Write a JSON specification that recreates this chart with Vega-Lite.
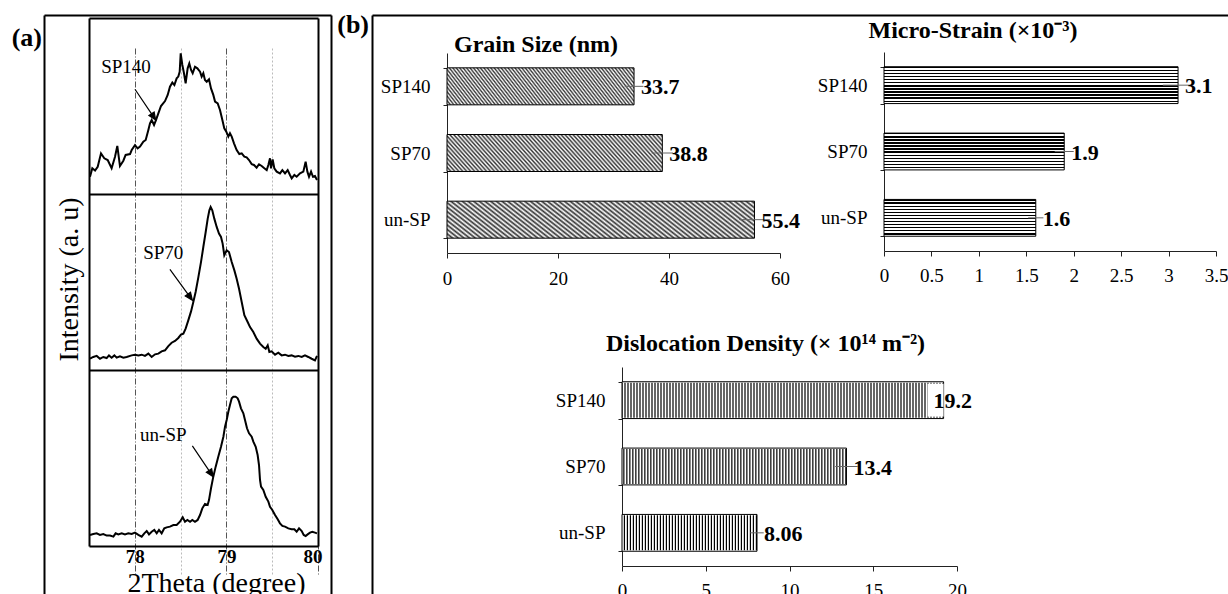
{
"$schema": "https://vega.github.io/schema/vega-lite/v6.json",
"width": 1228, "height": 594, "padding": 0, "autosize": {"type": "none"}, "background": "#ffffff",
"config": {"view": {"stroke": null}, "axis": {"labelFont": "Liberation Serif", "titleFont": "Liberation Serif", "labelColor": "#000", "titleColor": "#000", "domainColor": "#222", "tickColor": "#222", "labelFontSize": 19, "grid": false, "labelFlush": false, "labelOverlap": false}, "text": {"font": "Liberation Serif", "color": "#000"}},
"datasets": {
"xrd": [
{"sample":"SP140","theta":77.511,"intensity":209.8},{"sample":"SP140","theta":77.536,"intensity":214.6},{"sample":"SP140","theta":77.566,"intensity":213.3},{"sample":"SP140","theta":77.595,"intensity":215.5},{"sample":"SP140","theta":77.631,"intensity":223.1},{"sample":"SP140","theta":77.667,"intensity":220.3},{"sample":"SP140","theta":77.704,"intensity":219.3},{"sample":"SP140","theta":77.747,"intensity":214.6},{"sample":"SP140","theta":77.784,"intensity":221.2},{"sample":"SP140","theta":77.809,"intensity":227.3},{"sample":"SP140","theta":77.838,"intensity":215.9},{"sample":"SP140","theta":77.875,"intensity":218.9},{"sample":"SP140","theta":77.9,"intensity":222.2},{"sample":"SP140","theta":77.948,"intensity":222.7},{"sample":"SP140","theta":77.966,"intensity":225.0},{"sample":"SP140","theta":78.002,"intensity":227.8},{"sample":"SP140","theta":78.031,"intensity":225.9},{"sample":"SP140","theta":78.057,"intensity":226.9},{"sample":"SP140","theta":78.093,"intensity":229.7},{"sample":"SP140","theta":78.119,"intensity":230.7},{"sample":"SP140","theta":78.148,"intensity":236.4},{"sample":"SP140","theta":78.166,"intensity":240.2},{"sample":"SP140","theta":78.184,"intensity":242.0},{"sample":"SP140","theta":78.21,"intensity":239.2},{"sample":"SP140","theta":78.231,"intensity":242.0},{"sample":"SP140","theta":78.257,"intensity":245.8},{"sample":"SP140","theta":78.286,"intensity":250.0},{"sample":"SP140","theta":78.33,"intensity":252.8},{"sample":"SP140","theta":78.359,"intensity":256.3},{"sample":"SP140","theta":78.384,"intensity":261.0},{"sample":"SP140","theta":78.41,"intensity":263.3},{"sample":"SP140","theta":78.432,"intensity":261.9},{"sample":"SP140","theta":78.457,"intensity":265.7},{"sample":"SP140","theta":78.475,"intensity":266.7},{"sample":"SP140","theta":78.49,"intensity":269.5},{"sample":"SP140","theta":78.501,"intensity":279.9},{"sample":"SP140","theta":78.519,"intensity":273.3},{"sample":"SP140","theta":78.537,"intensity":268.6},{"sample":"SP140","theta":78.555,"intensity":262.9},{"sample":"SP140","theta":78.577,"intensity":271.4},{"sample":"SP140","theta":78.595,"intensity":274.2},{"sample":"SP140","theta":78.614,"intensity":270.5},{"sample":"SP140","theta":78.632,"intensity":268.6},{"sample":"SP140","theta":78.657,"intensity":272.3},{"sample":"SP140","theta":78.683,"intensity":271.4},{"sample":"SP140","theta":78.712,"intensity":269.5},{"sample":"SP140","theta":78.73,"intensity":266.7},{"sample":"SP140","theta":78.748,"intensity":268.6},{"sample":"SP140","theta":78.766,"intensity":264.8},{"sample":"SP140","theta":78.785,"intensity":263.8},{"sample":"SP140","theta":78.81,"intensity":265.2},{"sample":"SP140","theta":78.832,"intensity":260.0},{"sample":"SP140","theta":78.857,"intensity":256.3},{"sample":"SP140","theta":78.876,"intensity":252.5},{"sample":"SP140","theta":78.905,"intensity":251.5},{"sample":"SP140","theta":78.93,"intensity":247.7},{"sample":"SP140","theta":78.956,"intensity":242.0},{"sample":"SP140","theta":78.977,"intensity":237.3},{"sample":"SP140","theta":78.999,"intensity":235.4},{"sample":"SP140","theta":79.021,"intensity":232.6},{"sample":"SP140","theta":79.039,"intensity":234.5},{"sample":"SP140","theta":79.058,"intensity":232.6},{"sample":"SP140","theta":79.083,"intensity":228.8},{"sample":"SP140","theta":79.112,"intensity":225.0},{"sample":"SP140","theta":79.141,"intensity":222.7},{"sample":"SP140","theta":79.167,"intensity":223.1},{"sample":"SP140","theta":79.196,"intensity":221.2},{"sample":"SP140","theta":79.221,"intensity":220.8},{"sample":"SP140","theta":79.247,"intensity":219.3},{"sample":"SP140","theta":79.276,"intensity":217.0},{"sample":"SP140","theta":79.301,"intensity":216.5},{"sample":"SP140","theta":79.33,"intensity":215.0},{"sample":"SP140","theta":79.356,"intensity":216.9},{"sample":"SP140","theta":79.385,"intensity":215.9},{"sample":"SP140","theta":79.414,"intensity":214.6},{"sample":"SP140","theta":79.44,"intensity":213.6},{"sample":"SP140","theta":79.458,"intensity":216.5},{"sample":"SP140","theta":79.476,"intensity":220.3},{"sample":"SP140","theta":79.487,"intensity":214.6},{"sample":"SP140","theta":79.505,"intensity":219.7},{"sample":"SP140","theta":79.523,"intensity":214.6},{"sample":"SP140","theta":79.549,"intensity":212.7},{"sample":"SP140","theta":79.585,"intensity":211.7},{"sample":"SP140","theta":79.611,"intensity":213.6},{"sample":"SP140","theta":79.64,"intensity":211.7},{"sample":"SP140","theta":79.669,"intensity":213.6},{"sample":"SP140","theta":79.694,"intensity":210.8},{"sample":"SP140","theta":79.713,"intensity":208.9},{"sample":"SP140","theta":79.742,"intensity":210.8},{"sample":"SP140","theta":79.767,"intensity":209.8},{"sample":"SP140","theta":79.804,"intensity":211.7},{"sample":"SP140","theta":79.84,"intensity":212.7},{"sample":"SP140","theta":79.865,"intensity":218.4},{"sample":"SP140","theta":79.884,"intensity":212.7},{"sample":"SP140","theta":79.902,"intensity":209.8},{"sample":"SP140","theta":79.924,"intensity":212.7},{"sample":"SP140","theta":79.945,"intensity":209.8},{"sample":"SP140","theta":79.967,"intensity":210.2},{"sample":"SP140","theta":79.989,"intensity":208.0},
{"sample":"SP70","theta":77.511,"intensity":106.4},{"sample":"SP70","theta":77.547,"intensity":107.4},{"sample":"SP70","theta":77.584,"intensity":108.0},{"sample":"SP70","theta":77.62,"intensity":106.4},{"sample":"SP70","theta":77.656,"intensity":107.4},{"sample":"SP70","theta":77.693,"intensity":106.8},{"sample":"SP70","theta":77.718,"intensity":108.3},{"sample":"SP70","theta":77.747,"intensity":107.0},{"sample":"SP70","theta":77.777,"intensity":108.3},{"sample":"SP70","theta":77.802,"intensity":107.0},{"sample":"SP70","theta":77.838,"intensity":107.8},{"sample":"SP70","theta":77.875,"intensity":107.0},{"sample":"SP70","theta":77.911,"intensity":107.4},{"sample":"SP70","theta":77.966,"intensity":108.3},{"sample":"SP70","theta":78.002,"intensity":108.7},{"sample":"SP70","theta":78.039,"intensity":108.3},{"sample":"SP70","theta":78.075,"intensity":108.7},{"sample":"SP70","theta":78.111,"intensity":108.0},{"sample":"SP70","theta":78.148,"intensity":109.3},{"sample":"SP70","theta":78.184,"intensity":107.4},{"sample":"SP70","theta":78.221,"intensity":108.9},{"sample":"SP70","theta":78.257,"intensity":109.3},{"sample":"SP70","theta":78.293,"intensity":110.6},{"sample":"SP70","theta":78.33,"intensity":111.2},{"sample":"SP70","theta":78.366,"intensity":113.6},{"sample":"SP70","theta":78.402,"intensity":115.5},{"sample":"SP70","theta":78.439,"intensity":116.5},{"sample":"SP70","theta":78.475,"intensity":118.2},{"sample":"SP70","theta":78.504,"intensity":120.1},{"sample":"SP70","theta":78.53,"intensity":120.6},{"sample":"SP70","theta":78.555,"intensity":123.5},{"sample":"SP70","theta":78.584,"intensity":128.2},{"sample":"SP70","theta":78.614,"intensity":133.3},{"sample":"SP70","theta":78.639,"intensity":138.6},{"sample":"SP70","theta":78.664,"intensity":144.3},{"sample":"SP70","theta":78.694,"intensity":152.8},{"sample":"SP70","theta":78.723,"intensity":161.4},{"sample":"SP70","theta":78.748,"intensity":169.9},{"sample":"SP70","theta":78.774,"intensity":178.4},{"sample":"SP70","theta":78.796,"intensity":186.0},{"sample":"SP70","theta":78.814,"intensity":190.7},{"sample":"SP70","theta":78.828,"intensity":192.6},{"sample":"SP70","theta":78.846,"intensity":190.7},{"sample":"SP70","theta":78.868,"intensity":186.0},{"sample":"SP70","theta":78.894,"intensity":181.3},{"sample":"SP70","theta":78.919,"intensity":177.5},{"sample":"SP70","theta":78.941,"intensity":175.6},{"sample":"SP70","theta":78.959,"intensity":171.8},{"sample":"SP70","theta":78.977,"intensity":165.2},{"sample":"SP70","theta":79.003,"intensity":168.0},{"sample":"SP70","theta":79.028,"intensity":167.0},{"sample":"SP70","theta":79.058,"intensity":161.4},{"sample":"SP70","theta":79.087,"intensity":156.6},{"sample":"SP70","theta":79.112,"intensity":151.9},{"sample":"SP70","theta":79.138,"intensity":146.2},{"sample":"SP70","theta":79.167,"intensity":138.6},{"sample":"SP70","theta":79.196,"intensity":131.1},{"sample":"SP70","theta":79.232,"intensity":127.3},{"sample":"SP70","theta":79.258,"intensity":124.4},{"sample":"SP70","theta":79.294,"intensity":121.6},{"sample":"SP70","theta":79.33,"intensity":117.8},{"sample":"SP70","theta":79.367,"intensity":115.0},{"sample":"SP70","theta":79.403,"intensity":113.1},{"sample":"SP70","theta":79.429,"intensity":112.1},{"sample":"SP70","theta":79.451,"intensity":114.0},{"sample":"SP70","theta":79.469,"intensity":110.2},{"sample":"SP70","theta":79.494,"intensity":110.6},{"sample":"SP70","theta":79.531,"intensity":108.7},{"sample":"SP70","theta":79.567,"intensity":109.8},{"sample":"SP70","theta":79.603,"intensity":108.3},{"sample":"SP70","theta":79.64,"intensity":108.7},{"sample":"SP70","theta":79.676,"intensity":108.0},{"sample":"SP70","theta":79.712,"intensity":108.3},{"sample":"SP70","theta":79.749,"intensity":107.6},{"sample":"SP70","theta":79.785,"intensity":108.0},{"sample":"SP70","theta":79.822,"intensity":107.4},{"sample":"SP70","theta":79.858,"intensity":108.3},{"sample":"SP70","theta":79.894,"intensity":107.4},{"sample":"SP70","theta":79.931,"intensity":106.4},{"sample":"SP70","theta":79.967,"intensity":105.5},{"sample":"SP70","theta":79.989,"intensity":108.0},
{"sample":"un-SP","theta":77.511,"intensity":6.3},{"sample":"un-SP","theta":77.547,"intensity":6.8},{"sample":"un-SP","theta":77.584,"intensity":7.2},{"sample":"un-SP","theta":77.62,"intensity":6.3},{"sample":"un-SP","theta":77.656,"intensity":6.8},{"sample":"un-SP","theta":77.693,"intensity":5.9},{"sample":"un-SP","theta":77.729,"intensity":5.9},{"sample":"un-SP","theta":77.766,"intensity":5.3},{"sample":"un-SP","theta":77.791,"intensity":7.2},{"sample":"un-SP","theta":77.82,"intensity":6.6},{"sample":"un-SP","theta":77.857,"intensity":7.2},{"sample":"un-SP","theta":77.893,"intensity":6.6},{"sample":"un-SP","theta":77.929,"intensity":7.2},{"sample":"un-SP","theta":77.966,"intensity":6.8},{"sample":"un-SP","theta":78.002,"intensity":7.6},{"sample":"un-SP","theta":78.039,"intensity":6.3},{"sample":"un-SP","theta":78.075,"intensity":5.3},{"sample":"un-SP","theta":78.104,"intensity":7.2},{"sample":"un-SP","theta":78.13,"intensity":8.5},{"sample":"un-SP","theta":78.155,"intensity":6.6},{"sample":"un-SP","theta":78.184,"intensity":8.1},{"sample":"un-SP","theta":78.213,"intensity":9.1},{"sample":"un-SP","theta":78.239,"intensity":7.2},{"sample":"un-SP","theta":78.264,"intensity":9.1},{"sample":"un-SP","theta":78.293,"intensity":7.2},{"sample":"un-SP","theta":78.322,"intensity":10.0},{"sample":"un-SP","theta":78.348,"intensity":10.6},{"sample":"un-SP","theta":78.384,"intensity":11.0},{"sample":"un-SP","theta":78.421,"intensity":11.9},{"sample":"un-SP","theta":78.457,"intensity":11.9},{"sample":"un-SP","theta":78.493,"intensity":13.8},{"sample":"un-SP","theta":78.523,"intensity":16.3},{"sample":"un-SP","theta":78.548,"intensity":13.8},{"sample":"un-SP","theta":78.574,"intensity":14.8},{"sample":"un-SP","theta":78.603,"intensity":13.8},{"sample":"un-SP","theta":78.628,"intensity":14.8},{"sample":"un-SP","theta":78.657,"intensity":13.8},{"sample":"un-SP","theta":78.686,"intensity":14.8},{"sample":"un-SP","theta":78.712,"intensity":17.6},{"sample":"un-SP","theta":78.737,"intensity":21.4},{"sample":"un-SP","theta":78.766,"intensity":23.9},{"sample":"un-SP","theta":78.795,"intensity":23.3},{"sample":"un-SP","theta":78.81,"intensity":26.1},{"sample":"un-SP","theta":78.832,"intensity":32.8},{"sample":"un-SP","theta":78.857,"intensity":39.4},{"sample":"un-SP","theta":78.883,"intensity":45.1},{"sample":"un-SP","theta":78.912,"intensity":50.8},{"sample":"un-SP","theta":78.941,"intensity":56.4},{"sample":"un-SP","theta":78.967,"intensity":62.1},{"sample":"un-SP","theta":78.985,"intensity":67.8},{"sample":"un-SP","theta":79.003,"intensity":71.6},{"sample":"un-SP","theta":79.021,"intensity":76.3},{"sample":"un-SP","theta":79.039,"intensity":80.1},{"sample":"un-SP","theta":79.058,"intensity":83.9},{"sample":"un-SP","theta":79.076,"intensity":84.8},{"sample":"un-SP","theta":79.101,"intensity":84.8},{"sample":"un-SP","theta":79.123,"intensity":83.9},{"sample":"un-SP","theta":79.138,"intensity":82.0},{"sample":"un-SP","theta":79.159,"intensity":78.2},{"sample":"un-SP","theta":79.185,"intensity":75.4},{"sample":"un-SP","theta":79.203,"intensity":71.6},{"sample":"un-SP","theta":79.225,"intensity":66.9},{"sample":"un-SP","theta":79.247,"intensity":64.0},{"sample":"un-SP","theta":79.276,"intensity":62.1},{"sample":"un-SP","theta":79.294,"intensity":59.3},{"sample":"un-SP","theta":79.32,"intensity":56.4},{"sample":"un-SP","theta":79.341,"intensity":51.7},{"sample":"un-SP","theta":79.356,"intensity":46.0},{"sample":"un-SP","theta":79.367,"intensity":37.5},{"sample":"un-SP","theta":79.378,"intensity":33.7},{"sample":"un-SP","theta":79.403,"intensity":31.8},{"sample":"un-SP","theta":79.429,"intensity":28.0},{"sample":"un-SP","theta":79.458,"intensity":25.2},{"sample":"un-SP","theta":79.476,"intensity":22.3},{"sample":"un-SP","theta":79.501,"intensity":20.5},{"sample":"un-SP","theta":79.531,"intensity":17.6},{"sample":"un-SP","theta":79.56,"intensity":15.2},{"sample":"un-SP","theta":79.585,"intensity":12.9},{"sample":"un-SP","theta":79.611,"intensity":11.4},{"sample":"un-SP","theta":79.64,"intensity":11.0},{"sample":"un-SP","theta":79.676,"intensity":10.0},{"sample":"un-SP","theta":79.712,"intensity":9.5},{"sample":"un-SP","theta":79.742,"intensity":9.5},{"sample":"un-SP","theta":79.767,"intensity":8.1},{"sample":"un-SP","theta":79.793,"intensity":10.0},{"sample":"un-SP","theta":79.822,"intensity":8.5},{"sample":"un-SP","theta":79.844,"intensity":6.3},{"sample":"un-SP","theta":79.865,"intensity":5.7},{"sample":"un-SP","theta":79.887,"intensity":6.6},{"sample":"un-SP","theta":79.913,"intensity":7.6},{"sample":"un-SP","theta":79.938,"intensity":8.1},{"sample":"un-SP","theta":79.967,"intensity":7.6},{"sample":"un-SP","theta":79.989,"intensity":7.2}
],
"bars": [
{"sample":"SP140","grain":33.7,"grainLo":32.01,"grainHi":35.39,"strain":3.1,"strainLo":2.94,"strainHi":3.26,"disl":19.2,"dislLo":18.24,"dislHi":20.16},
{"sample":"SP70","grain":38.8,"grainLo":36.86,"grainHi":40.74,"strain":1.9,"strainLo":1.8,"strainHi":2.0,"disl":13.4,"dislLo":12.73,"dislHi":14.07},
{"sample":"un-SP","grain":55.4,"grainLo":52.63,"grainHi":58.17,"strain":1.6,"strainLo":1.52,"strainHi":1.68,"disl":8.06,"dislLo":7.66,"dislHi":8.46}
]
},
"resolve": {"scale": {"x": "independent", "y": "independent"}, "axis": {"x": "independent", "y": "independent"}},
"layer": [
{"data": {"values": [{}]},
 "resolve": {"axis": {"y": "independent"}},
 "layer": [
  {"mark": {"type": "text", "text": "(a)", "align": "right", "baseline": "alphabetic", "dx": -2, "dy": 31, "fontSize": 26, "fontWeight": "bold"},
   "encoding": {
    "x": {"datum": 0, "type": "quantitative", "scale": {"domain": [0, 1], "range": [44, 331], "zero": false, "nice": false}, "axis": {"orient": "top", "offset": -15, "domain": true, "domainColor": "#000", "domainWidth": 2, "ticks": false, "labels": false, "grid": false, "title": null}},
    "y": {"datum": 0, "type": "quantitative", "scale": {"domain": [0, 1], "range": [15, 640], "zero": false, "nice": false}, "axis": {"orient": "left", "offset": -44, "domain": true, "domainColor": "#000", "domainWidth": 2, "ticks": false, "labels": false, "grid": false, "title": null}}}},
  {"mark": {"type": "point", "opacity": 0, "size": 1},
   "encoding": {
    "x": {"datum": 0, "type": "quantitative"},
    "y": {"datum": 0, "type": "quantitative", "axis": {"orient": "right", "offset": -897, "domain": true, "domainColor": "#000", "domainWidth": 2, "ticks": false, "labels": false, "grid": false, "title": null}}}}
 ]},
{"data": {"values": [{}]},
 "layer": [
  {"mark": {"type": "text", "text": "(b)", "align": "right", "baseline": "alphabetic", "dx": -3, "dy": 18, "fontSize": 26, "fontWeight": "bold"},
   "encoding": {
    "x": {"datum": 0, "type": "quantitative", "scale": {"domain": [0, 1], "range": [372, 1300], "zero": false, "nice": false}, "axis": {"orient": "top", "offset": -15, "domain": true, "domainColor": "#000", "domainWidth": 2, "ticks": false, "labels": false, "grid": false, "title": null}},
    "y": {"datum": 0, "type": "quantitative", "scale": {"domain": [0, 1], "range": [15, 640], "zero": false, "nice": false}, "axis": {"orient": "left", "offset": -372, "domain": true, "domainColor": "#000", "domainWidth": 2, "ticks": false, "labels": false, "grid": false, "title": null}}}}
 ]},
{"data": {"name": "xrd"},
 "resolve": {"axis": {"y": "independent"}},
 "layer": [
  {"mark": {"type": "line", "color": "#000", "strokeWidth": 2},
   "encoding": {
    "x": {"field": "theta", "type": "quantitative", "scale": {"domain": [77.5, 80], "range": [89, 318], "nice": false, "zero": false},
      "axis": {"orient": "bottom", "offset": -48, "values": [78, 78.5, 79, 79.5, 80], "grid": true, "gridWidth": 1,
        "gridColor": {"condition": {"test": "datum.value % 1 === 0", "value": "#555555"}, "value": "#bbbbbb"},
        "gridDash": {"condition": {"test": "datum.value % 1 === 0", "value": [6, 2, 1, 2]}, "value": [2, 2]},
        "domain": false, "ticks": false, "labelExpr": "datum.value % 1 === 0 ? '' + datum.value : ''", "labelFontWeight": "bold", "labelFontSize": 19, "labelPadding": 1, "labelFlush": 1, "labelFlushOffset": 4, "title": "2Theta (degree)", "titleFontSize": 28, "titleFontWeight": "normal", "titleX": 216, "titleY": 45, "titleBaseline": "alphabetic", "titleAlign": "center"}},
    "y": {"field": "intensity", "type": "quantitative", "scale": {"domain": [0, 300], "range": [546, 18], "nice": false, "zero": false},
      "axis": {"orient": "left", "offset": -89, "values": [0, 100, 200, 300], "grid": true, "gridColor": "#000", "gridWidth": 2, "gridOpacity": 1, "domain": true, "domainColor": "#000", "domainWidth": 2, "ticks": false, "labels": false, "title": "Intensity (a. u)", "titleFontSize": 28, "titleFontWeight": "normal", "titleX": -12, "titleY": 279, "titleAngle": 270, "titleBaseline": "alphabetic", "titleAlign": "center"}},
    "detail": {"field": "sample", "type": "nominal"}
   }},
  {"data": {"values": [{}]}, "mark": {"type": "text", "text": "SP140", "fontSize": 19, "align": "center", "baseline": "middle"},
   "encoding": {"x": {"datum": 77.904, "type": "quantitative"}, "y": {"datum": 271.9, "type": "quantitative", "axis": {"orient": "right", "offset": -910, "domain": true, "domainColor": "#000", "domainWidth": 2, "ticks": false, "labels": false, "grid": false, "title": null}}}},
  {"data": {"values": [{}]}, "mark": {"type": "point", "shape": "M0,-1L0,0.62M-0.17,0.6L0,1L0.17,0.6Z", "filled": true, "color": "#000", "stroke": "#000", "strokeWidth": 1.2, "opacity": 1, "size": 1369, "angle": 326},
   "encoding": {"x": {"datum": 78.115, "type": "quantitative"}, "y": {"datum": 250.8, "type": "quantitative", "axis": null}}},
  {"data": {"values": [{}]}, "mark": {"type": "text", "text": "SP70", "fontSize": 19, "align": "center", "baseline": "middle"},
   "encoding": {"x": {"datum": 78.311, "type": "quantitative"}, "y": {"datum": 166.6, "type": "quantitative", "axis": null}}},
  {"data": {"values": [{}]}, "mark": {"type": "point", "shape": "M0,-1L0,0.62M-0.17,0.6L0,1L0.17,0.6Z", "filled": true, "color": "#000", "stroke": "#000", "strokeWidth": 1.2, "opacity": 1, "size": 1459, "angle": 324},
   "encoding": {"x": {"datum": 78.506, "type": "quantitative"}, "y": {"datum": 148.4, "type": "quantitative", "axis": null}}},
  {"data": {"values": [{}]}, "mark": {"type": "text", "text": "un-SP", "fontSize": 19, "align": "center", "baseline": "middle"},
   "encoding": {"x": {"datum": 78.311, "type": "quantitative"}, "y": {"datum": 63.1, "type": "quantitative", "axis": null}}},
  {"data": {"values": [{}]}, "mark": {"type": "point", "shape": "M0,-1L0,0.62M-0.17,0.6L0,1L0.17,0.6Z", "filled": true, "color": "#000", "stroke": "#000", "strokeWidth": 1.2, "opacity": 1, "size": 1384, "angle": 326},
   "encoding": {"x": {"datum": 78.742, "type": "quantitative"}, "y": {"datum": 48.1, "type": "quantitative", "axis": null}}}
 ]},
{"data": {"name": "bars"},
 "resolve": {"axis": {"x": "independent"}},
 "layer": [
  {"mark": {"type": "bar", "stroke": "#000", "strokeWidth": 1, "fill": {"gradient": "linear", "x1": 0, "y1": 1, "x2": 1.1272, "y2": 0.8266, "stops": [
{"offset":0,"color":"#333"},{"offset":0.008,"color":"#fff"},{"offset":0.016,"color":"#333"},{"offset":0.024,"color":"#fff"},{"offset":0.032,"color":"#333"},{"offset":0.04,"color":"#fff"},{"offset":0.048,"color":"#333"},{"offset":0.056,"color":"#fff"},{"offset":0.064,"color":"#333"},{"offset":0.072,"color":"#fff"},{"offset":0.08,"color":"#333"},{"offset":0.088,"color":"#fff"},{"offset":0.096,"color":"#333"},{"offset":0.104,"color":"#fff"},{"offset":0.112,"color":"#333"},{"offset":0.12,"color":"#fff"},{"offset":0.128,"color":"#333"},{"offset":0.136,"color":"#fff"},{"offset":0.144,"color":"#333"},{"offset":0.152,"color":"#fff"},{"offset":0.16,"color":"#333"},{"offset":0.168,"color":"#fff"},{"offset":0.176,"color":"#333"},{"offset":0.184,"color":"#fff"},{"offset":0.192,"color":"#333"},{"offset":0.2,"color":"#fff"},{"offset":0.208,"color":"#333"},{"offset":0.216,"color":"#fff"},{"offset":0.224,"color":"#333"},{"offset":0.232,"color":"#fff"},{"offset":0.24,"color":"#333"},{"offset":0.248,"color":"#fff"},{"offset":0.256,"color":"#333"},{"offset":0.264,"color":"#fff"},{"offset":0.272,"color":"#333"},{"offset":0.28,"color":"#fff"},{"offset":0.288,"color":"#333"},{"offset":0.296,"color":"#fff"},{"offset":0.304,"color":"#333"},{"offset":0.312,"color":"#fff"},{"offset":0.32,"color":"#333"},{"offset":0.328,"color":"#fff"},{"offset":0.336,"color":"#333"},{"offset":0.344,"color":"#fff"},{"offset":0.352,"color":"#333"},{"offset":0.36,"color":"#fff"},{"offset":0.368,"color":"#333"},{"offset":0.376,"color":"#fff"},{"offset":0.384,"color":"#333"},{"offset":0.392,"color":"#fff"},{"offset":0.4,"color":"#333"},{"offset":0.408,"color":"#fff"},{"offset":0.416,"color":"#333"},{"offset":0.424,"color":"#fff"},{"offset":0.432,"color":"#333"},{"offset":0.44,"color":"#fff"},{"offset":0.448,"color":"#333"},{"offset":0.456,"color":"#fff"},{"offset":0.464,"color":"#333"},{"offset":0.472,"color":"#fff"},{"offset":0.48,"color":"#333"},{"offset":0.488,"color":"#fff"},{"offset":0.496,"color":"#333"},{"offset":0.504,"color":"#fff"},{"offset":0.512,"color":"#333"},{"offset":0.52,"color":"#fff"},{"offset":0.528,"color":"#333"},{"offset":0.536,"color":"#fff"},{"offset":0.544,"color":"#333"},{"offset":0.552,"color":"#fff"},{"offset":0.56,"color":"#333"},{"offset":0.568,"color":"#fff"},{"offset":0.576,"color":"#333"},{"offset":0.584,"color":"#fff"},{"offset":0.592,"color":"#333"},{"offset":0.6,"color":"#fff"},{"offset":0.608,"color":"#333"},{"offset":0.616,"color":"#fff"},{"offset":0.624,"color":"#333"},{"offset":0.632,"color":"#fff"},{"offset":0.64,"color":"#333"},{"offset":0.648,"color":"#fff"},{"offset":0.656,"color":"#333"},{"offset":0.664,"color":"#fff"},{"offset":0.672,"color":"#333"},{"offset":0.68,"color":"#fff"},{"offset":0.688,"color":"#333"},{"offset":0.696,"color":"#fff"},{"offset":0.704,"color":"#333"},{"offset":0.712,"color":"#fff"},{"offset":0.72,"color":"#333"},{"offset":0.728,"color":"#fff"},{"offset":0.736,"color":"#333"},{"offset":0.744,"color":"#fff"},{"offset":0.752,"color":"#333"},{"offset":0.76,"color":"#fff"},{"offset":0.768,"color":"#333"},{"offset":0.776,"color":"#fff"},{"offset":0.784,"color":"#333"},{"offset":0.792,"color":"#fff"},{"offset":0.8,"color":"#333"},{"offset":0.808,"color":"#fff"},{"offset":0.816,"color":"#333"},{"offset":0.824,"color":"#fff"},{"offset":0.832,"color":"#333"},{"offset":0.84,"color":"#fff"},{"offset":0.848,"color":"#333"},{"offset":0.856,"color":"#fff"},{"offset":0.864,"color":"#333"},{"offset":0.872,"color":"#fff"},{"offset":0.88,"color":"#333"},{"offset":0.888,"color":"#fff"},{"offset":0.896,"color":"#333"},{"offset":0.904,"color":"#fff"},{"offset":0.912,"color":"#333"},{"offset":0.92,"color":"#fff"},{"offset":0.928,"color":"#333"},{"offset":0.936,"color":"#fff"},{"offset":0.944,"color":"#333"},{"offset":0.952,"color":"#fff"},{"offset":0.96,"color":"#333"},{"offset":0.968,"color":"#fff"},{"offset":0.976,"color":"#333"},{"offset":0.984,"color":"#fff"},{"offset":0.992,"color":"#333"},{"offset":1,"color":"#fff"}]}},
   "encoding": {
    "y": {"field": "sample", "type": "nominal", "scale": {"domain": ["SP140", "SP70", "un-SP"], "range": [53, 253], "paddingInner": 0.445, "paddingOuter": 0.2225}, "axis": {"orient": "left", "offset": -447, "title": null, "tickBand": "extent", "tickSize": 4, "labelPadding": 13, "labelFontSize": 19}},
    "x": {"field": "grain", "type": "quantitative", "scale": {"domain": [0, 60], "range": [447, 780], "nice": false}, "axis": {"orient": "bottom", "offset": -341, "values": [0, 20, 40, 60], "title": null, "tickSize": 5, "labelPadding": 11}}
   }},
  {"mark": {"type": "rule", "color": "#666", "strokeWidth": 1}, "encoding": {"y": {"field": "sample", "type": "nominal", "bandPosition": 0.5}, "x": {"field": "grainLo", "type": "quantitative", "axis": null}, "x2": {"field": "grainHi"}}},
  {"mark": {"type": "text", "align": "left", "baseline": "middle", "dx": 7, "dy": 1, "fontSize": 22, "fontWeight": "bold"},
   "encoding": {"y": {"field": "sample", "type": "nominal", "bandPosition": 0.5}, "x": {"field": "grain", "type": "quantitative", "axis": {"orient": "top", "offset": -53, "domain": false, "ticks": false, "labels": false, "title": "Grain Size (nm)", "titleFontSize": 24, "titleFontWeight": "bold", "titleX": 535.5, "titleY": -1.5, "titleBaseline": "alphabetic", "titleAlign": "center"}}, "text": {"field": "grain", "type": "nominal"}}}
 ]},
{"data": {"name": "bars"},
 "resolve": {"axis": {"x": "independent"}},
 "layer": [
  {"mark": {"type": "bar", "stroke": "#000", "strokeWidth": 1, "fill": {"gradient": "linear", "x1": 0, "y1": 0, "x2": 0, "y2": 1, "stops": [
{"offset":0,"color":"#000"},{"offset":0.0375,"color":"#000"},{"offset":0.0375,"color":"#fff"},{"offset":0.0833,"color":"#fff"},{"offset":0.0833,"color":"#000"},{"offset":0.1208,"color":"#000"},{"offset":0.1208,"color":"#fff"},{"offset":0.1667,"color":"#fff"},{"offset":0.1667,"color":"#000"},{"offset":0.2042,"color":"#000"},{"offset":0.2042,"color":"#fff"},{"offset":0.25,"color":"#fff"},{"offset":0.25,"color":"#000"},{"offset":0.2875,"color":"#000"},{"offset":0.2875,"color":"#fff"},{"offset":0.3333,"color":"#fff"},{"offset":0.3333,"color":"#000"},{"offset":0.3708,"color":"#000"},{"offset":0.3708,"color":"#fff"},{"offset":0.4167,"color":"#fff"},{"offset":0.4167,"color":"#000"},{"offset":0.4542,"color":"#000"},{"offset":0.4542,"color":"#fff"},{"offset":0.5,"color":"#fff"},{"offset":0.5,"color":"#000"},{"offset":0.5375,"color":"#000"},{"offset":0.5375,"color":"#fff"},{"offset":0.5833,"color":"#fff"},{"offset":0.5833,"color":"#000"},{"offset":0.6208,"color":"#000"},{"offset":0.6208,"color":"#fff"},{"offset":0.6667,"color":"#fff"},{"offset":0.6667,"color":"#000"},{"offset":0.7042,"color":"#000"},{"offset":0.7042,"color":"#fff"},{"offset":0.75,"color":"#fff"},{"offset":0.75,"color":"#000"},{"offset":0.7875,"color":"#000"},{"offset":0.7875,"color":"#fff"},{"offset":0.8333,"color":"#fff"},{"offset":0.8333,"color":"#000"},{"offset":0.8708,"color":"#000"},{"offset":0.8708,"color":"#fff"},{"offset":0.9167,"color":"#fff"},{"offset":0.9167,"color":"#000"},{"offset":0.9542,"color":"#000"},{"offset":0.9542,"color":"#fff"},{"offset":1,"color":"#fff"}]}},
   "encoding": {
    "y": {"field": "sample", "type": "nominal", "scale": {"domain": ["SP140", "SP70", "un-SP"], "range": [52, 251], "paddingInner": 0.445, "paddingOuter": 0.2225}, "axis": {"orient": "left", "offset": -884, "title": null, "tickBand": "extent", "tickSize": 4, "labelPadding": 13, "labelFontSize": 19}},
    "x": {"field": "strain", "type": "quantitative", "scale": {"domain": [0, 3.5], "range": [884, 1216], "nice": false}, "axis": {"orient": "bottom", "offset": -343, "values": [0, 0.5, 1, 1.5, 2, 2.5, 3, 3.5], "format": "~g", "title": null, "tickSize": 5, "labelPadding": 10}}
   }},
  {"mark": {"type": "rule", "color": "#666", "strokeWidth": 1}, "encoding": {"y": {"field": "sample", "type": "nominal", "bandPosition": 0.5}, "x": {"field": "strainLo", "type": "quantitative", "axis": null}, "x2": {"field": "strainHi"}}},
  {"mark": {"type": "text", "align": "left", "baseline": "middle", "dx": 7, "dy": 1, "fontSize": 22, "fontWeight": "bold"},
   "encoding": {"y": {"field": "sample", "type": "nominal", "bandPosition": 0.5}, "x": {"field": "strain", "type": "quantitative", "axis": {"orient": "top", "offset": -52, "domain": false, "ticks": false, "labels": false, "title": "Micro-Strain (×10⁻³)", "titleFontSize": 24, "titleFontWeight": "bold", "titleX": 972.5, "titleY": -14.7, "titleBaseline": "alphabetic", "titleAlign": "center"}}, "text": {"field": "strain", "type": "nominal"}}}
 ]},
{"data": {"name": "bars"},
 "resolve": {"axis": {"x": "independent"}},
 "layer": [
  {"mark": {"type": "bar", "stroke": "#000", "strokeWidth": 1, "fill": "#fff"},
   "encoding": {
    "y": {"field": "sample", "type": "nominal", "scale": {"domain": ["SP140", "SP70", "un-SP"], "range": [367, 566], "paddingInner": 0.445, "paddingOuter": 0.2225}, "axis": {"orient": "left", "offset": -622, "title": null, "tickBand": "extent", "tickSize": 4, "labelPadding": 13, "labelFontSize": 19}},
    "x": {"field": "disl", "type": "quantitative", "scale": {"domain": [0, 20], "range": [622, 957], "nice": false}, "axis": {"orient": "bottom", "offset": -28, "values": [0, 5, 10, 15, 20], "title": null, "tickSize": 5, "labelPadding": 10}}
   }},
  {"mark": {"type": "rule", "color": "#000", "strokeWidth": 35, "strokeDash": [1.2, 1.8], "strokeCap": "butt"},
   "encoding": {"y": {"field": "sample", "type": "nominal", "bandPosition": 0.5}, "x": {"field": "disl", "type": "quantitative", "stack": "zero", "axis": null}}},
  {"transform": [{"filter": "datum.sample !== 'SP140'"}], "mark": {"type": "rule", "color": "#666", "strokeWidth": 1}, "encoding": {"y": {"field": "sample", "type": "nominal", "bandPosition": 0.5}, "x": {"field": "dislLo", "type": "quantitative", "axis": null}, "x2": {"field": "dislHi"}}},
  {"transform": [{"filter": "datum.sample === 'SP140'"}], "mark": {"type": "bar", "fill": "#fff", "height": 33},
   "encoding": {"y": {"field": "sample", "type": "nominal"}, "x": {"field": "dislLo", "type": "quantitative", "axis": null}, "x2": {"field": "disl"}}},
  {"transform": [{"filter": "datum.sample !== 'SP140'"}], "mark": {"type": "text", "align": "left", "baseline": "middle", "dx": 7, "dy": 1, "fontSize": 22, "fontWeight": "bold"},
   "encoding": {"y": {"field": "sample", "type": "nominal", "bandPosition": 0.5}, "x": {"field": "disl", "type": "quantitative", "axis": {"orient": "top", "offset": -367, "domain": false, "ticks": false, "labels": false, "title": "Dislocation Density (× 10¹⁴  m⁻²)", "titleFontSize": 24, "titleFontWeight": "bold", "titleX": 765, "titleY": -16.3, "titleBaseline": "alphabetic", "titleAlign": "center"}}, "text": {"field": "disl", "type": "nominal"}}},
  {"transform": [{"filter": "datum.sample === 'SP140'"}], "mark": {"type": "text", "align": "left", "baseline": "middle", "dx": -10, "dy": 1, "fontSize": 22, "fontWeight": "bold"},
   "encoding": {"y": {"field": "sample", "type": "nominal", "bandPosition": 0.5}, "x": {"field": "disl", "type": "quantitative", "axis": null}, "text": {"field": "disl", "type": "nominal"}}}
 ]}
]
}
